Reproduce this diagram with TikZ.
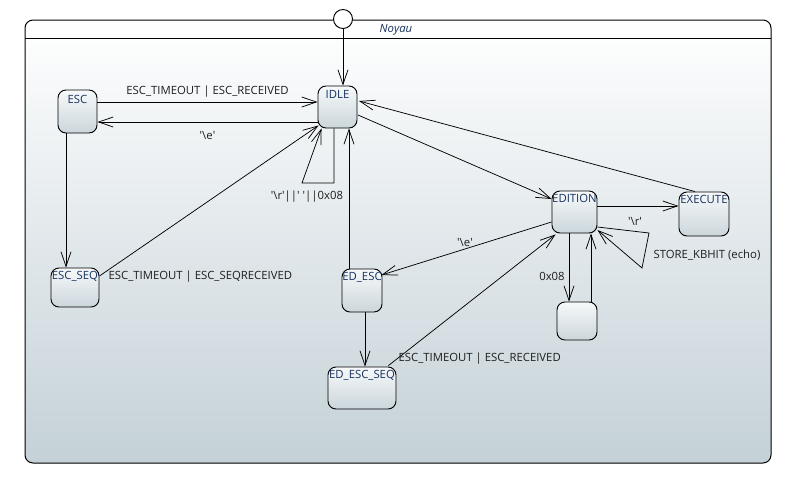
\documentclass[tikz,border=0pt]{standalone}
\usepackage{fontspec}
\setmainfont{Open Sans}
\usetikzlibrary{arrows.meta,calc}
\definecolor{nodetxt}{HTML}{17325F}
\definecolor{edgetxt}{HTML}{1E1E1E}
\definecolor{bgtop}{HTML}{FFFFFF}
\definecolor{bgbot}{HTML}{C4D1D7}
\definecolor{sttop}{HTML}{F7F9FA}
\definecolor{stbot}{HTML}{CBD6DB}
\newcommand\sq{\textquotesingle}
\newcommand\bsl{\textbackslash}
\tikzset{
  stbox/.style={draw=black, line width=0.7pt, rounded corners=6pt, top color=sttop, bottom color=stbot, inner sep=0pt},
  sttext/.style={font=\fontsize{8.5pt}{10pt}\selectfont, text=nodetxt, inner sep=0pt, anchor=north},
  etext/.style={font=\fontsize{8.5pt}{10pt}\selectfont, text=edgetxt, inner sep=1pt},
  tr/.style={draw=black, line width=0.55pt, -{Straight Barb[length=11pt,width=7.5pt,line width=0.55pt]}},
}
\begin{document}
\begin{tikzpicture}[x=0.75pt,y=-0.75pt]
\useasboundingbox (0,0) rectangle (789,483);
% container
\draw[line width=0.75pt, rounded corners=6pt, top color=bgtop, bottom color=bgbot] (25,20) rectangle (771,463);
\draw[line width=0.75pt] (25,38) -- (771,38);
\node[font=\fontsize{8.5pt}{10pt}\selectfont\itshape, text=nodetxt, inner sep=0pt] (title) at (396,30) {Noyau};
% initial
\node[draw=black, line width=0.7pt, fill=white, circle, minimum size={19*0.75pt}, inner sep=0pt] (init) at (343,19) {};
% states
\node[stbox, minimum width={39*0.75pt}, minimum height={43*0.75pt}] (esc) at (77.5,111.5) {};
\node[stbox, minimum width={39*0.75pt}, minimum height={42*0.75pt}] (idle) at (337.5,107) {};
\node[stbox, minimum width={48*0.75pt}, minimum height={39*0.75pt}] (escseq) at (75,287.5) {};
\node[stbox, minimum width={40*0.75pt}, minimum height={43*0.75pt}] (edesc) at (362,290.5) {};
\node[stbox, minimum width={68*0.75pt}, minimum height={42*0.75pt}] (edescseq) at (362,388) {};
\node[stbox, minimum width={40*0.75pt}, minimum height={38*0.75pt}] (back) at (577,321) {};
\node[stbox, minimum width={45*0.75pt}, minimum height={42*0.75pt}] (edition) at (574.5,212) {};
\node[stbox, minimum width={50*0.75pt}, minimum height={44*0.75pt}] (execute) at (704,214) {};
% state names
\node[sttext] (tesc) at ($(esc.north)+(0,5)$) {ESC};
\node[sttext] (tidle) at ($(idle.north)+(0,4.5)$) {IDLE};
\node[sttext] (tescseq) at ($(escseq.north)+(0,3)$) {ESC\_SEQ};
\node[sttext] (tedesc) at ($(edesc.north)+(0,3)$) {ED\_ESC};
\node[sttext] (tedescseq) at ($(edescseq.north)+(0,3)$) {ED\_ESC\_SEQ};
\node[sttext] (tedition) at ($(edition.north)+(0,3)$) {EDITION};
\node[sttext] (texecute) at ($(execute.north)+(0,3)$) {EXECUTE};
% transitions
\draw[tr] (init.south) -- ($(idle.north)+(5.5,0)$);
\draw[tr] ($(esc.east)+(0,-9.5)$) -- node[etext, above=2pt] (l1) {ESC\_TIMEOUT | ESC\_RECEIVED} ($(idle.west)+(0,-5)$);
\draw[tr] ($(idle.west)+(0,15)$) -- node[etext, below=6pt] (l2) {\sq\bsl e\sq} ($(esc.east)+(0,10.5)$);
\draw[tr] ($(esc.south)+(-11.5,0)$) -- ($(escseq.north)+(-9,0)$);
\draw[tr] ($(escseq.east)+(0,-11.5)$) -- ($(idle.south west)+(1,-3)$);
\node[etext, anchor=west] (l3) at (107,277) {ESC\_TIMEOUT | ESC\_SEQRECEIVED};
\coordinate (il1) at (334,183);
\coordinate (il2) at (302,183);
\draw[tr] ($(idle.south)+(-3.5,0)$) -- (il1) -- (il2) -- ($(idle.south west)+(4,0)$);
\node[etext] (l4) at (307,197) {\sq\bsl r\sq{}||\sq{} \sq{}||0x08};
\draw[tr] ($(edesc.north)+(-13,0)$) -- ($(idle.south)+(11.5,0)$);
\draw[tr] ($(idle.east)+(0.5,8)$) -- ($(edition.west)+(0,-13)$);
\draw[tr] ($(execute.north)+(-9,0)$) -- ($(idle.east)+(1.5,-6)$);
\draw[tr] ($(edition.east)+(0,-6)$) -- ($(execute.west)+(0,-8)$);
\node[etext] (l5) at (635,221) {\sq\bsl r\sq};
\coordinate (el1) at (649,233);
\coordinate (el2) at (642,268);
\draw[tr] ($(edition.east)+(0,15)$) -- (el1) -- (el2) -- ($(edition.east)+(0,18)$);
\node[etext, anchor=west] (l6) at (652,255) {STORE\_KBHIT (echo)};
\draw[tr] ($(edition.west)+(0,10)$) -- ($(edesc.east)+(-1,-15.5)$);
\node[etext] (l7) at (465,243) {\sq\bsl e\sq};
\draw[tr] ($(edesc.south)+(3,0)$) -- ($(edescseq.north)+(3,0)$);
\draw[tr] ($(edescseq.north east)+(-8,-1)$) -- ($(edition.south west)+(4,1)$);
\node[etext, anchor=west] (l8) at (397,359) {ESC\_TIMEOUT | ESC\_RECEIVED};
\draw[tr] ($(edition.south)+(-5.5,0)$) -- ($(back.north)+(-8,0)$);
\node[etext] (l9) at (552,276) {0x08};
\draw[tr] ($(back.north)+(14,0)$) -- ($(edition.south)+(16.5,0)$);
\end{tikzpicture}
\end{document}
